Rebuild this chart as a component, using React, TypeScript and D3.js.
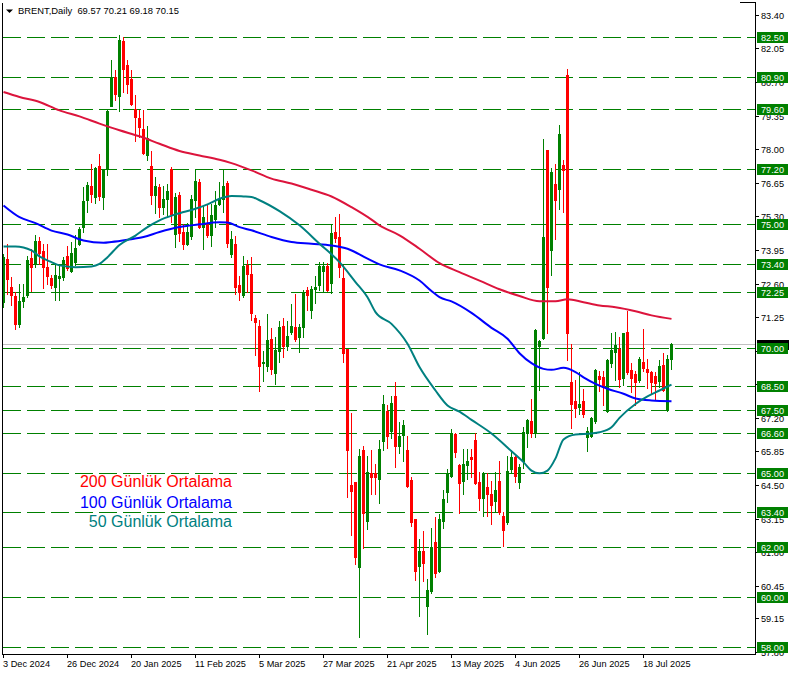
import React from "react";
import * as d3 from "d3";

const opens = [71.85,73.59,72.48,72.09,70.98,71.89,72.12,73.61,73.39,74.33,73.90,73.26,72.83,72.45,72.83,72.86,73.69,73.10,73.46,74.20,74.89,75.94,76.54,76.08,77.31,76.08,77.22,79.75,80.90,80.12,82.34,81.37,80.84,79.63,79.27,78.80,77.75,77.31,76.14,76.50,75.67,76.01,77.20,74.60,76.14,74.67,74.20,74.53,75.97,76.70,74.89,75.00,74.57,75.20,75.81,76.01,76.64,73.77,74.17,72.56,72.12,73.33,72.99,71.22,70.91,69.40,69.30,70.38,69.00,69.88,70.89,70.07,70.65,70.87,70.45,70.87,72.35,71.54,72.39,72.56,73.10,73.29,72.62,74.67,74.49,72.83,69.98,64.52,64.61,61.22,65.91,63.04,64.97,64.97,64.75,66.26,67.49,66.69,68.06,66.08,66.53,65.91,64.71,63.14,61.26,61.84,59.65,60.23,62.20,61.06,63.07,64.21,64.88,66.56,65.32,64.68,65.32,65.62,66.29,64.61,63.98,64.44,64.12,63.87,64.65,63.27,63.00,65.15,65.62,64.61,65.48,66.58,67.09,66.62,70.07,70.42,77.95,73.93,76.59,76.41,77.35,80.97,68.63,67.87,67.63,67.87,66.45,66.49,67.07,68.90,68.83,67.49,69.40,69.84,69.97,68.81,70.65,69.13,68.97,68.73,69.44,69.17,69.04,68.90,68.67,69.34,67.56,69.57];
const highs = [73.80,74.20,72.86,72.25,72.59,72.59,73.69,74.00,74.57,74.49,74.20,74.17,72.96,73.39,73.33,73.66,74.09,74.27,74.57,74.87,76.50,76.68,77.42,77.28,77.82,77.22,79.56,81.60,81.17,82.58,82.51,81.60,81.17,80.17,79.56,79.59,78.94,77.93,76.88,76.61,76.54,76.61,77.28,76.24,76.28,74.98,75.03,76.16,77.17,76.81,75.74,75.81,75.81,76.34,76.68,77.15,76.72,74.73,74.53,72.92,73.69,73.53,73.66,71.32,71.12,69.88,71.36,70.82,70.45,71.09,71.22,71.09,71.76,72.16,70.98,72.35,72.48,72.52,72.89,73.46,73.46,73.42,74.98,75.27,75.41,73.33,69.98,67.39,64.61,65.95,66.05,65.68,65.89,65.35,66.31,68.10,67.70,68.06,68.63,67.03,67.12,66.49,64.81,63.14,62.33,62.67,60.72,62.77,63.20,63.34,64.28,65.15,66.76,66.58,65.35,65.95,65.95,65.95,66.58,65.01,65.01,64.97,64.68,65.01,65.48,63.41,65.68,65.91,65.65,65.35,66.82,67.16,67.96,70.78,70.34,78.42,77.95,77.26,77.39,78.96,77.55,81.24,70.17,68.73,69.04,68.37,66.82,67.25,69.17,69.10,69.10,69.57,70.61,70.65,70.44,70.61,71.49,69.40,69.10,69.64,70.78,69.57,69.10,69.04,69.51,69.80,69.71,70.21];
const lows = [71.65,72.19,71.72,70.78,70.87,71.65,72.05,72.32,73.26,73.39,72.43,72.59,72.43,71.94,71.94,72.75,73.13,73.06,73.33,74.13,74.67,75.47,75.87,75.83,75.94,75.61,76.95,79.72,79.96,79.54,80.30,80.26,79.76,78.35,78.49,77.79,77.55,75.81,75.43,75.27,75.38,75.27,75.07,74.06,74.33,74.00,74.13,74.40,75.27,74.84,74.00,74.49,74.09,74.87,75.74,75.47,74.06,73.66,72.19,71.92,72.05,72.25,71.14,69.71,68.27,68.70,69.10,68.97,68.57,69.44,69.64,69.91,70.58,70.31,69.84,70.45,71.52,71.22,71.81,72.35,72.32,72.32,72.22,74.27,72.86,69.44,64.01,62.51,61.33,58.38,61.97,62.73,64.14,64.14,63.77,65.91,65.99,66.40,65.24,65.78,65.48,64.44,62.87,60.68,59.25,60.66,58.51,60.15,60.82,60.99,62.77,63.81,64.84,65.62,63.37,64.12,64.75,64.81,64.54,63.50,63.27,63.27,62.93,63.41,63.34,62.06,62.93,65.01,64.61,64.40,65.20,66.02,66.42,66.45,68.33,70.38,70.61,72.93,74.40,75.61,75.47,69.51,66.80,67.25,67.36,67.25,65.86,66.42,66.98,68.30,67.70,67.43,69.26,68.73,68.46,68.54,68.97,68.23,67.70,68.63,69.10,68.40,68.14,67.96,68.46,68.27,67.49,69.18];
const closes = [73.66,72.79,72.12,70.98,71.89,72.05,73.55,73.26,74.30,73.82,73.26,72.92,72.56,72.96,72.92,73.55,73.21,73.82,74.04,74.80,75.90,76.58,76.21,77.26,76.10,77.15,79.54,80.88,80.23,82.40,81.24,80.63,79.80,79.29,78.89,77.85,78.46,76.14,76.54,75.67,76.01,76.34,75.38,76.08,74.63,74.20,74.67,76.01,76.72,74.89,75.27,74.57,75.34,75.74,76.01,76.54,74.22,74.40,72.48,72.25,73.31,72.99,71.41,71.05,69.30,69.45,70.34,69.17,69.93,70.87,70.07,70.51,70.91,70.38,70.85,72.22,72.12,72.39,72.48,73.29,73.29,72.35,74.63,74.44,73.26,69.80,65.91,64.25,61.59,65.68,63.37,65.01,64.81,64.81,65.95,67.74,66.49,67.79,66.08,66.49,66.93,64.48,63.00,61.03,61.86,61.35,60.28,61.99,60.95,63.14,63.94,64.97,66.56,65.82,64.57,65.35,65.48,65.55,64.57,63.98,64.97,64.14,63.71,64.28,63.41,62.69,65.08,65.62,64.88,65.24,66.62,67.12,66.58,70.74,70.28,74.47,72.46,77.08,75.97,78.60,77.15,70.61,67.76,67.60,67.76,67.36,66.66,67.20,69.13,68.77,68.43,69.53,69.93,70.11,68.77,70.61,69.04,68.81,68.63,69.57,69.21,69.04,68.63,68.59,69.30,68.33,69.57,70.15];

const ma200 = [[0,80.30],[4,80.10],[9,79.90],[14,79.56],[19,79.32],[24,79.03],[29,78.76],[34,78.52],[39,78.22],[44,77.93],[49,77.75],[54,77.58],[57,77.44],[62,77.15],[67,76.82],[72,76.62],[77,76.37],[82,76.10],[87,75.67],[92,75.17],[94,74.94],[99,74.54],[104,74.0],[109,73.42],[114,73.06],[119,72.72],[124,72.37],[129,72.10],[134,71.89],[138,71.89],[141,71.97],[145,71.85],[149,71.72],[153,71.65],[158,71.49],[162,71.32],[167,71.18]];
const ma100 = [[0,75.74],[4,75.27],[8,75.03],[12,74.73],[16,74.57],[20,74.33],[25,74.24],[27,74.27],[31,74.36],[35,74.47],[39,74.67],[44,74.87],[49,74.98],[54,75.06],[56,75.05],[59,74.87],[62,74.74],[67,74.47],[72,74.27],[77,74.20],[82,74.13],[86,74.0],[91,73.60],[94,73.37],[99,73.13],[104,72.72],[107,72.30],[109,72.05],[112,71.88],[117,71.42],[122,70.82],[126,70.38],[129,69.80],[132,69.40],[135,69.17],[137,69.13],[140,69.21],[143,69.04],[145,68.83],[148,68.57],[151,68.37],[155,68.17],[158,67.98],[162,67.90],[167,67.87]];
const ma50 = [[0,74.09],[3,74.09],[7,73.93],[9,73.69],[12,73.46],[14,73.33],[18,73.26],[22,73.29],[24,73.39],[26,73.66],[29,74.15],[33,74.53],[36,74.87],[39,75.14],[43,75.38],[48,75.61],[51,75.78],[54,76.01],[57,76.12],[60,76.10],[62,76.08],[64,75.95],[69,75.51],[74,74.94],[79,74.20],[84,73.46],[88,72.66],[91,72.05],[93,71.45],[97,70.98],[101,70.18],[104,69.24],[108,68.30],[111,67.70],[114,67.45],[117,67.12],[122,66.57],[127,65.86],[130,65.42],[132,65.08],[134,64.97],[136,65.08],[138,65.57],[140,66.33],[143,66.53],[147,66.57],[149,66.62],[152,66.82],[154,67.20],[158,67.76],[161,68.06],[164,68.30],[167,68.54]];

const levelLines = [82.5, 80.9, 79.6, 77.2, 75.0, 73.4, 72.25, 70.0, 68.5, 67.5, 66.6, 65.0, 63.4, 62.0, 60.0, 58.0];
// axis tick labels (69.90 and 68.55 sit fully behind level labels in the reference, so only their tick marks show)
const priceTicks = ["83.40","82.05","80.70","79.35","78.00","76.65","75.30","73.95","72.60","71.25","69.90","68.55","67.20","65.85","64.50","63.15","61.80","60.45","59.15","57.80"];
const hiddenTicks = ["69.90","68.55"];
const dateLabels = ["3 Dec 2024","26 Dec 2024","20 Jan 2025","11 Feb 2025","5 Mar 2025","27 Mar 2025","21 Apr 2025","13 May 2025","4 Jun 2025","26 Jun 2025","18 Jul 2025"];
const dateIdx = [0,16,32,48,64,80,96,112,128,144,160];
const bidPrice = 70.15;
const legendItems = ["200 Günlük Ortalama","100 Günlük Ortalama","50 Günlük Ortalama"];
const legendColors = ["#ff0000","#0000ff","#008080"];
const maColors = ["#dc143c","#0000ff","#008080"];

const FONT = "'Liberation Sans', Arial, sans-serif";

export default function App() {
  const x = d3.scaleLinear().domain([0, 167]).range([3, 671]);
  const y = d3.scaleLinear().domain([58, 82.5]).range([646.7, 37.3]);
  const right = 755;
  const bottom = 654;
  const line = d3.line<number[]>().x(d => x(d[0]) + 0.5).y(d => y(d[1])).curve(d3.curveMonotoneX);
  const ry = (v: number) => Math.round(y(v));

  return (
    <div style={{ position: "absolute", left: 0, top: 0 }}>
      <svg width={795} height={675} style={{ display: "block", background: "#fff" }} fontFamily={FONT}>
        <rect x={0} y={0} width={795} height={675} fill="#fff" />
        {levelLines.map(v => (
          <line key={"l" + v} x1={3} x2={right} y1={ry(v) + 0.5} y2={ry(v) + 0.5} stroke="#008000" strokeWidth={1} strokeDasharray="18,6" />
        ))}
        <line x1={2} x2={right} y1={ry(bidPrice) + 0.5} y2={ry(bidPrice) + 0.5} stroke="#c0c0c0" strokeWidth={1} />
        {opens.map((o, i) => {
          const c = closes[i];
          const up = c >= o;
          const col = Math.round(x(i));
          const color = up ? "#008000" : "#ff0000";
          const yh = ry(highs[i]);
          const yl = ry(lows[i]);
          const yt = ry(Math.max(o, c));
          const yb = ry(Math.min(o, c));
          return (
            <g key={"c" + i}>
              <rect x={col} y={yh} width={1} height={yl - yh + 1} fill={color} />
              <rect x={col - 1} y={yt} width={3} height={Math.max(1, yb - yt + 1)} fill={color} />
            </g>
          );
        })}
        {[ma200, ma100, ma50].map((m, k) => (
          <path key={"m" + k} d={line(m as any) || ""} fill="none" stroke={maColors[k]} strokeWidth={2} />
        ))}
        {legendItems.map((t, k) => (
          <text key={"lg" + k} x={232} y={[487, 508, 527][k]} textAnchor="end" fontSize={16} fill={legendColors[k]}>{t}</text>
        ))}
        <line x1={2.5} x2={2.5} y1={3} y2={bottom + 0.5} stroke="#000" />
        <line x1={2} x2={right + 1} y1={bottom + 0.5} y2={bottom + 0.5} stroke="#000" />
        <line x1={right + 0.5} x2={right + 0.5} y1={3} y2={bottom + 0.5} stroke="#000" />
        <line x1={740} x2={right + 1} y1={2.5} y2={2.5} stroke="#000" />
        {priceTicks.map(t => {
          const yy = ry(parseFloat(t));
          return (
            <g key={"pt" + t}>
              <line x1={right} x2={759} y1={yy + 0.5} y2={yy + 0.5} stroke="#000" />
              {hiddenTicks.includes(t) ? null : (
                <text x={761} y={yy + 3.5} fontSize={9.2} fill="#000">{t}</text>
              )}
            </g>
          );
        })}
        <rect x={757} y={ry(bidPrice) - 4} width={32} height={10} fill="#000" />
        {levelLines.map(v => {
          const yy = ry(v);
          return (
            <g key={"gl" + v}>
              <rect x={757} y={yy - 5} width={31} height={11} fill="#008000" />
              <text x={761} y={yy + 3.5} fontSize={9.2} fill="#fff">{v.toFixed(2)}</text>
            </g>
          );
        })}
        {dateLabels.map((t, k) => {
          const xx = Math.round(x(dateIdx[k]));
          return (
            <g key={"d" + k}>
              <line x1={xx + 0.5} x2={xx + 0.5} y1={bottom} y2={bottom + 4} stroke="#000" />
              <text x={xx} y={667} fontSize={9.2} fill="#000">{t}</text>
            </g>
          );
        })}
        <path d="M6,9.5 L13,9.5 L9.5,13 Z" fill="#000" />
        <text x={18} y={14} fontSize={9.4} fill="#000" style={{ whiteSpace: "pre" }}>{"BRENT,Daily  69.57 70.21 69.18 70.15"}</text>
      </svg>
    </div>
  );
}
